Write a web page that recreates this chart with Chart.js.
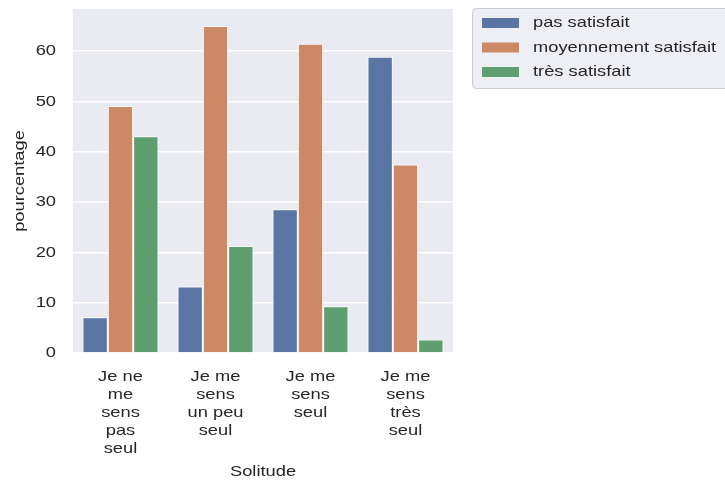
<!DOCTYPE html>
<html>
<head>
<meta charset="utf-8">
<script src="https://cdn.jsdelivr.net/npm/chart.js@4"></script>
<style>
  html, body { margin: 0; padding: 0; background: #fff; }
  #wrap { width: 725px; height: 481px; }
</style>
</head>
<body>
<div id="wrap"><canvas id="chart"></canvas></div>
<script>
// categories (x axis), one label per group, split on lines
const categories = [
    ["Je ne", "me", "sens", "pas", "seul"],
    ["Je me", "sens", "un peu", "seul"],
    ["Je me", "sens", "seul"],
    ["Je me", "sens", "très", "seul"]
];
const seriesNames = ["pas satisfait", "moyennement satisfait", "très satisfait"];
const pasSatisfait = [7.1, 13.2, 28.6, 58.9];
const moyennementSatisfait = [49.1, 65.0, 61.5, 37.5];
const tresSatisfait = [43.1, 21.3, 9.3, 2.7];
const yTicks = [0, 10, 20, 30, 40, 50, 60];
const yMax = 68.4;

const colors = ["#5975a4", "#cc8963", "#5f9e6e"];
const textColor = "#262626";
const font = "'Liberation Sans', Arial, sans-serif";

// the reference text is a bit wider than plain Arial, stretch it around its anchor
const stretchX = 1.22;
const origFillText = CanvasRenderingContext2D.prototype.fillText;
CanvasRenderingContext2D.prototype.fillText = function (text, x, y) {
    this.save();
    this.translate(x, y);
    this.scale(stretchX, 1);
    origFillText.call(this, text, 0, 0);
    this.restore();
};

// grey background behind the plot area
const bgPlugin = {
    id: "bg",
    beforeDraw(chart) {
        const { ctx, chartArea: a } = chart;
        ctx.save();
        ctx.fillStyle = "#eaeaf2";
        ctx.fillRect(a.left, a.top, a.right - a.left, a.bottom - a.top);
        ctx.restore();
    }
};

// legend box outside the axes, top right
const legendPlugin = {
    id: "boxLegend",
    afterDraw(chart) {
        const ctx = chart.ctx;
        const x = 472, y = 8, w = 262, h = 80;
        ctx.save();
        ctx.beginPath();
        ctx.roundRect(x + 0.5, y + 0.5, w, h, 4);
        ctx.fillStyle = "#eeeef5";
        ctx.fill();
        ctx.strokeStyle = "#cccccc";
        ctx.lineWidth = 1;
        ctx.stroke();
        ctx.font = "15px " + font;
        ctx.textBaseline = "middle";
        chart.data.datasets.forEach((ds, i) => {
            const rowY = 23 + i * 24.5;
            ctx.fillStyle = ds.backgroundColor;
            ctx.fillRect(482, rowY - 5, 37, 10);
            ctx.fillStyle = textColor;
            ctx.fillText(ds.label, 533, rowY);
        });
        ctx.restore();
    }
};

const seriesData = [pasSatisfait, moyennementSatisfait, tresSatisfait];

new Chart(document.getElementById("chart"), {
    type: "bar",
    data: {
        labels: categories,
        datasets: seriesNames.map((name, i) => ({
            label: name,
            data: seriesData[i],
            backgroundColor: colors[i],
            borderColor: "#ffffff",
            borderWidth: 1,
            categoryPercentage: 0.8,
            barPercentage: 1.0
        }))
    },
    options: {
        responsive: true,
        maintainAspectRatio: false,
        animation: false,
        layout: { padding: { top: 9, right: 272, bottom: 0, left: 0 } },
        plugins: {
            legend: { display: false },
            tooltip: { enabled: false }
        },
        scales: {
            x: {
                grid: { display: false, drawTicks: false },
                border: { display: false },
                ticks: {
                    color: textColor,
                    font: { family: font, size: 15, lineHeight: 1.2 },
                    padding: 15,
                    maxRotation: 0,
                    autoSkip: false
                },
                title: {
                    display: true,
                    text: "Solitude",
                    color: textColor,
                    font: { family: font, size: 15 },
                    padding: { top: 0, bottom: 0 }
                },
                afterFit(scale) {
                    scale.height = 128;
                    scale.paddingLeft = 0;
                    scale.paddingRight = 0;
                }
            },
            y: {
                min: 0,
                max: yMax,
                grid: { color: "#ffffff", lineWidth: 1.5, drawTicks: false },
                border: { display: false },
                afterBuildTicks(scale) {
                    scale.ticks = yTicks.map(v => ({ value: v }));
                },
                ticks: {
                    color: textColor,
                    font: { family: font, size: 15 },
                    padding: 17
                },
                title: {
                    display: true,
                    text: "pourcentage",
                    color: textColor,
                    font: { family: font, size: 15 },
                    padding: { top: 11, bottom: 0 }
                },
                afterFit(scale) {
                    scale.width = 73;
                    scale.paddingTop = 0;
                    scale.paddingBottom = 0;
                }
            }
        }
    },
    plugins: [bgPlugin, legendPlugin]
});
</script>
</body>
</html>
